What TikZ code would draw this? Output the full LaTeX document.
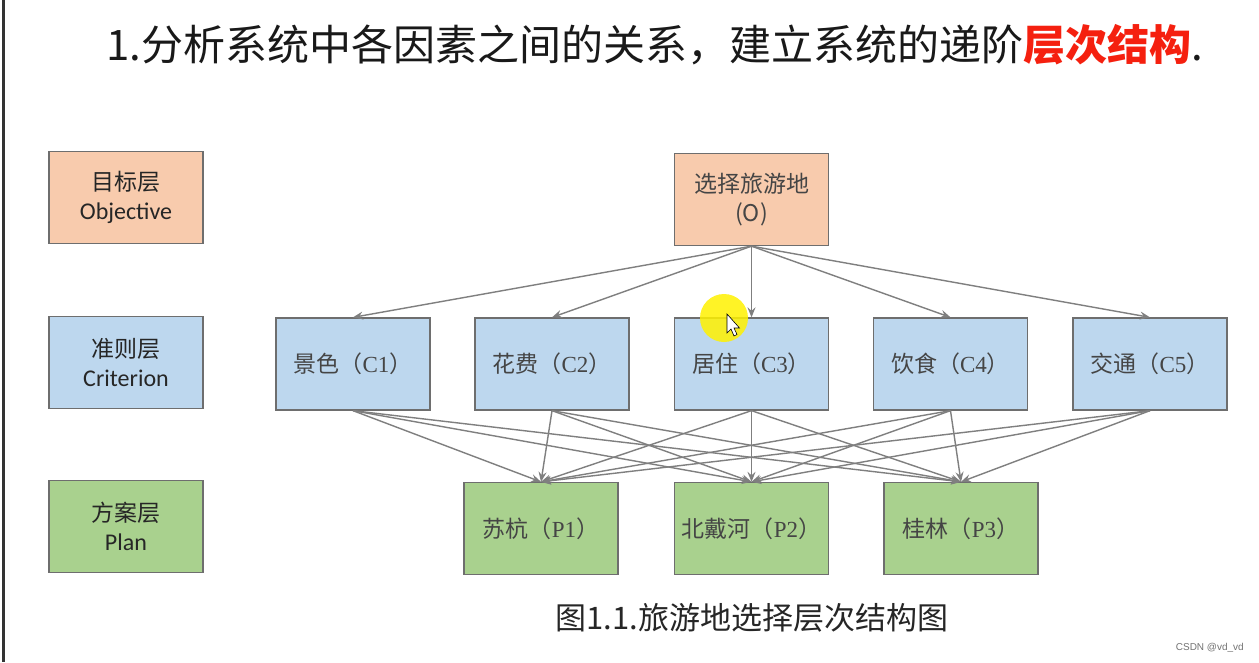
\documentclass[tikz,border=0pt]{standalone}
\usepackage{fontspec}
\setmainfont{Carlito}
\newfontfamily\cjk{Noto Sans CJK SC}
\newfontfamily\serifl{Liberation Serif}
\newfontfamily\wmfont{Liberation Sans}
\usetikzlibrary{arrows.meta}
\definecolor{orangec}{HTML}{F8CBAD}
\definecolor{bluec}{HTML}{BDD7EE}
\definecolor{greenc}{HTML}{A9D18E}
\definecolor{edgec}{HTML}{6E6E6E}
\definecolor{linec}{HTML}{7F7F7F}
\definecolor{txtc}{HTML}{454545}
\definecolor{titlered}{HTML}{F5200F}
\tikzset{
  box/.style={draw=edgec, line width=1.3pt, inner sep=0pt, minimum width=154pt, minimum height=92pt, align=center},
  lbl/.style={box, text=black!85, font=\fontsize{24}{29}\selectfont},
  dnode/.style={box, text=txtc, font=\fontsize{23}{29}\selectfont},
  conn/.style={draw=linec, line width=1.4pt, -{Stealth[length=10pt,width=8pt,inset=3.5pt]}},
}
\newcommand{\cl}[2]{{\cjk #1（}{\serifl #2}{\cjk ）}}
\begin{document}
\begin{tikzpicture}[x=1pt,y=-1pt]
\useasboundingbox (0,0) rectangle (1259,662);
\fill[white] (0,0) rectangle (1259,662);
\draw[black!80, line width=2.5pt] (3.5,0) -- (3.5,662);
% title
\node[anchor=base west, inner sep=0pt, text=black!90, font=\cjk\fontsize{42}{48}\selectfont] (title) at (106,60)
  {1.分析系统中各因素之间的关系，建立系统的递阶{\bfseries\color{titlered}层次结构}.};
% left labels
\node[lbl, fill=orangec] (lo) at (126,197.5) {{\cjk\fontsize{23}{29}\selectfont 目标层}\\Objective};
\node[lbl, fill=bluec] (lc) at (126,362.5) {{\cjk\fontsize{23}{29}\selectfont 准则层}\\Criterion};
\node[lbl, fill=greenc] (lp) at (126,526.5) {{\cjk\fontsize{23}{29}\selectfont 方案层}\\Plan};
% objective
\node[dnode, fill=orangec, font=\cjk\fontsize{23}{29}\selectfont] (O) at (751.5,199.5) {选择旅游地\\(O)};
% criteria
\node[dnode, fill=bluec] (C1) at (353,364) {\cl{景色}{C1}};
\node[dnode, fill=bluec] (C2) at (552,364) {\cl{花费}{C2}};
\node[dnode, fill=bluec] (C3) at (751.5,364) {\cl{居住}{C3}};
\node[dnode, fill=bluec] (C4) at (950.5,364) {\cl{饮食}{C4}};
\node[dnode, fill=bluec] (C5) at (1150,364) {\cl{交通}{C5}};
% plans
\node[dnode, fill=greenc] (P1) at (541,528.5) {\cl{苏杭}{P1}};
\node[dnode, fill=greenc] (P2) at (751.5,528.5) {\cl{北戴河}{P2}};
\node[dnode, fill=greenc] (P3) at (961,528.5) {\cl{桂林}{P3}};
% connectors
\foreach \c in {C1,C2,C3,C4,C5}{
  \draw[conn] (O.south) -- (\c.north);
  \foreach \p in {P1,P2,P3}{
    \draw[conn] (\c.south) -- (\p.north);
  }
}
% caption
\node[inner sep=0pt, text=black!85, font=\cjk\fontsize{31}{36}\selectfont] (cap) at (752,618) {图1.1.旅游地选择层次结构图};
% watermark
\node[anchor=east, inner sep=0pt, text=black!55, font=\wmfont\fontsize{10}{12}\selectfont] (wm) at (1244,648) {CSDN @vd\_vd};
% cursor highlight
\fill[yellow, opacity=0.85] (724,318) circle (24);
\coordinate (cur) at (727,314);
\draw[black, fill=white, line width=0.6pt] (cur) -- ++(0,19) -- ++(4,-4) -- ++(3,7) -- ++(3,-1.5) -- ++(-3,-6.5) -- ++(5.5,0) -- cycle;
\end{tikzpicture}
\end{document}
